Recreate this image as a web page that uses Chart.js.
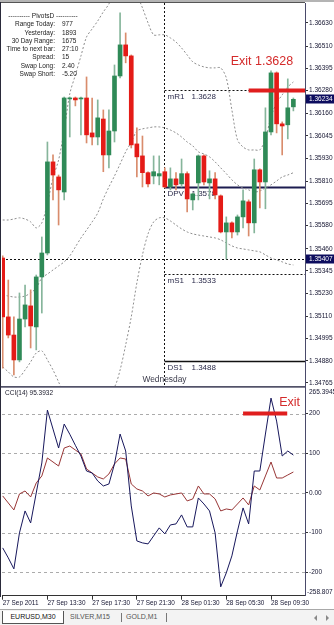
<!DOCTYPE html>
<html>
<head>
<meta charset="utf-8">
<title>EURUSD,M30</title>
<script src="https://cdn.jsdelivr.net/npm/chart.js@4.4.1/dist/chart.umd.min.js"></script>
<style>
  html, body { margin: 0; padding: 0; background: #fff; }
  body { position: relative; width: 334px; height: 625px; overflow: hidden;
         font-family: "Liberation Sans", Arial, sans-serif; color: #1a1a1a; }
  #priceWrap { position: absolute; left: 0; top: -10px; width: 334px; height: 401px; }
  #cciWrap { position: absolute; left: 0; top: 378px; width: 334px; height: 228px; }
  #topEdge { position: absolute; left: 0; top: 0; width: 334px; height: 2px; background: #b4b4b4; }
  #leftEdge { position: absolute; left: 0; top: 2px; width: 1px; height: 595px; background: #2a2a3a; }
  #info { position: absolute; left: 0; top: 12px; font-size: 6.5px; line-height: 8.3px; color: #222; }
  #info .row { position: relative; height: 8.3px; width: 90px; white-space: nowrap; }
  #info .lbl { position: absolute; right: 35px; }
  #info .val { position: absolute; left: 62px; }
  #info .head { width: 76px; margin-left: 5px; text-align: center; white-space: nowrap; }
  #tabs { position: absolute; left: 0; top: 609px; width: 334px; height: 16px; background: #f3f3f3;
          border-top: 1px solid #a8a8a8; font-size: 7px; }
  #tabActive { position: absolute; left: 2px; top: 1px; width: 60px; height: 12px; line-height: 12px;
               background: #fff; border: 1px solid #555; border-top: none; text-align: center; color: #111; }
  .tabTxt { position: absolute; top: 1px; line-height: 12px; color: #555; }
  .tabSep { position: absolute; top: 3px; width: 1px; height: 9px; background: #777; }
  .arrL, .arrR { position: absolute; top: 5px; width: 0; height: 0; border-top: 3px solid transparent; border-bottom: 3px solid transparent; }
  .arrL { left: 314px; border-right: 3px solid #888; }
  .arrR { left: 326px; border-left: 3px solid #888; }
</style>
</head>
<body>
<div id="priceWrap"><canvas id="priceCanvas"></canvas></div>
<div id="cciWrap"><canvas id="cciCanvas"></canvas></div>
<div id="topEdge"></div>
<div id="leftEdge"></div>
<div id="info"></div>
<div id="tabs">
  <div id="tabActive">EURUSD,M30</div>
  <div class="tabTxt" style="left:70px">SILVER,M15</div>
  <div class="tabSep" style="left:121px"></div>
  <div class="tabTxt" style="left:126px">GOLD,M1</div>
  <div class="tabSep" style="left:166px"></div>
  <div class="arrL"></div>
  <div class="arrR"></div>
</div>
<script>
// ---- EURUSD M30 candles, 27 Sep 09:30 .. 28 Sep 11:30 ----
const opens = [1.35412, 1.35107, 1.35013, 1.34884, 1.35096, 1.35164, 1.35055, 1.35314, 1.35438, 1.35910,
  1.35832, 1.35754, 1.36236, 1.36241, 1.36236, 1.36241, 1.36060, 1.36039, 1.36132, 1.35946,
  1.36070, 1.36355, 1.36516, 1.36459, 1.36003, 1.35941, 1.35854, 1.35837, 1.35837, 1.35859,
  1.35780, 1.35822, 1.35796, 1.35849, 1.35713, 1.35801, 1.35941, 1.35801, 1.35822, 1.35734,
  1.35547, 1.35594, 1.35547, 1.35625, 1.35703, 1.35594, 1.35869, 1.35806, 1.36065, 1.36371,
  1.36107, 1.36102, 1.36195];
const highs = [1.35423, 1.35298, 1.35107, 1.35231, 1.35272, 1.35247, 1.35324, 1.35521, 1.36013, 1.35946,
  1.35842, 1.36246, 1.36246, 1.36246, 1.36246, 1.36350, 1.36241, 1.36231, 1.36179, 1.36179,
  1.36412, 1.36682, 1.36578, 1.36464, 1.36086, 1.36044, 1.35859, 1.35941, 1.35941, 1.35879,
  1.35879, 1.35854, 1.35925, 1.35859, 1.35749, 1.35946, 1.35946, 1.35864, 1.35854, 1.35739,
  1.35625, 1.35599, 1.35635, 1.35765, 1.35713, 1.35925, 1.35874, 1.36190, 1.36381, 1.36376,
  1.36117, 1.36340, 1.36241];
const lows = [1.34842, 1.34998, 1.34806, 1.34874, 1.35055, 1.34946, 1.34936, 1.35127, 1.35428, 1.35713,
  1.35583, 1.35713, 1.36039, 1.36200, 1.36050, 1.36008, 1.35998, 1.35998, 1.35859, 1.35879,
  1.36013, 1.36345, 1.36423, 1.35982, 1.35832, 1.35780, 1.35780, 1.35796, 1.35791, 1.35775,
  1.35765, 1.35765, 1.35780, 1.35651, 1.35661, 1.35713, 1.35791, 1.35718, 1.35718, 1.35542,
  1.35407, 1.35516, 1.35531, 1.35568, 1.35526, 1.35542, 1.35672, 1.35667, 1.36050, 1.36060,
  1.35946, 1.36029, 1.36174];
const closes = [1.35107, 1.35013, 1.34884, 1.35096, 1.35169, 1.35060, 1.35314, 1.35438, 1.35910, 1.35842,
  1.35765, 1.36241, 1.36241, 1.36231, 1.36241, 1.36050, 1.36039, 1.36138, 1.35946, 1.36070,
  1.36355, 1.36516, 1.36459, 1.35998, 1.35936, 1.35854, 1.35796, 1.35859, 1.35849, 1.35780,
  1.35822, 1.35791, 1.35849, 1.35718, 1.35744, 1.35941, 1.35806, 1.35822, 1.35739, 1.35547,
  1.35594, 1.35547, 1.35625, 1.35708, 1.35594, 1.35869, 1.35806, 1.36065, 1.36371, 1.36107,
  1.36096, 1.36190, 1.36234];

// bands (dotted grey curves)
const bbUpper = [1.35609, 1.35609, 1.35614, 1.35620, 1.35614, 1.35599, 1.35568, 1.35594, 1.35697, 1.35827,
  1.35920, 1.36075, 1.36262, 1.36360, 1.36459, 1.36557, 1.36599, 1.36640, 1.36687, 1.36728,
  1.36801, 1.36853, 1.36853, 1.36827, 1.36775, 1.36708, 1.36630, 1.36568, 1.36568, 1.36568,
  1.36552, 1.36531, 1.36500, 1.36464, 1.36428, 1.36412, 1.36402, 1.36397, 1.36397, 1.36397,
  1.36345, 1.36179, 1.36024, 1.35987, 1.35972, 1.35972, 1.35972, 1.36029, 1.36143, 1.36215,
  1.36257, 1.36298, 1.36324];
const bbMiddle = [1.35221, 1.35215, 1.35210, 1.35210, 1.35215, 1.35231, 1.35257, 1.35309, 1.35329, 1.35350,
  1.35371, 1.35392, 1.35423, 1.35469, 1.35516, 1.35557, 1.35599, 1.35645, 1.35718, 1.35780,
  1.35837, 1.35899, 1.35962, 1.36013, 1.36070, 1.36081, 1.36086, 1.36091, 1.36091, 1.36086,
  1.36075, 1.36060, 1.36039, 1.36013, 1.35993, 1.35962, 1.35951, 1.35936, 1.35910, 1.35879,
  1.35849, 1.35817, 1.35791, 1.35775, 1.35765, 1.35754, 1.35759, 1.35775, 1.35791, 1.35811,
  1.35832, 1.35842, 1.35854];
const bbLower = [1.34848, 1.34822, 1.34796, 1.34796, 1.34832, 1.34874, 1.34920, 1.34931, 1.34884, 1.34832,
  1.34770, 1.34700, 1.34600, 1.34580, 1.34570, 1.34560, 1.34600, 1.34650, 1.34700, 1.34730,
  1.34744, 1.34832, 1.34962, 1.35107, 1.35283, 1.35428, 1.35537, 1.35599, 1.35620, 1.35620,
  1.35604, 1.35583, 1.35563, 1.35547, 1.35537, 1.35531, 1.35526, 1.35521, 1.35516, 1.35506,
  1.35490, 1.35475, 1.35464, 1.35459, 1.35454, 1.35449, 1.35444, 1.35428, 1.35412, 1.35402,
  1.35392, 1.35381, 1.35376];

// CCI(14) and the slower brown line
const cci14 = [-138.4, -163.5, -191.2, -100.6, -45.3, -75.5, 0.0, 75.5, 208.8, 161.0,
  113.2, 173.6, 148.0, 120.0, 93.0, 55.3, 50.3, 30.2, 17.6, 22.6,
  73.0, 148.4, 105.7, -32.7, -120.8, -125.8, -128.3, -108.2, -88.0, -103.1,
  -80.5, -78.0, -55.3, -85.5, -85.5, -12.6, -27.7, -45.3, -100.6, -236.5,
  -201.3, -158.5, -95.6, -37.7, -78.0, 55.3, 55.3, 148.4, 239.0, 181.1,
  93.1, 105.7, 95.3932];
const cciSlow = [-7.5, -25.2, -42.8, -2.5, 5.0, -10.1, 25.2, 42.8, 88.1, 78.0,
  67.9, 113.2, 118.2, 108.2, 98.1, 60.4, 50.3, 40.3, 35.2, 47.8,
  73.0, 88.1, 85.5, 22.6, 10.1, 5.0, -7.5, 0.0, -2.5, -10.1,
  -5.0, -2.5, 0.0, -20.1, -15.1, 17.6, -2.5, -2.5, -15.1, -45.3,
  -40.3, -42.8, -27.7, -12.6, -30.2, 17.6, 7.5, 42.8, 78.0, 37.7,
  37.7, 45.3, 52.8];

// axes
const priceTicks = [1.36630, 1.36510, 1.36395, 1.36280, 1.36160, 1.36045, 1.35930, 1.35810, 1.35695,
  1.35580, 1.35460, 1.35345, 1.35230, 1.35110, 1.34995, 1.34880, 1.34765];
const priceMin = 1.34749, priceMax = 1.36733;
const cciTicks = [200, 100, 0, -100, -200];
const cciTickLabels = ['200', '100', '0.00', '-100', '-200'];
const cciMin = -258.807, cciMax = 265.3945;
const timeTickBars = [0, 8, 16, 24, 32, 40, 48];
const timeTickLabels = ['27 Sep 2011', '27 Sep 13:30', '27 Sep 17:30', '27 Sep 21:30',
  '28 Sep 01:30', '28 Sep 05:30', '28 Sep 09:30'];
const barMin = -0.125, barMax = 54.08;

// objects on the chart
const pivotNames = ['mR1', 'DPV', 'mS1', 'DS1'];
const pivotValues = [1.3628, 1.3578, 1.3533, 1.3488];
const todayLow = 1.35407;
const bidPrice = 1.36234;
const dayStartBar = 29;
const dayName = 'Wednesday';
const exitPrice = 1.3628;
const exitFromBar = 44;
const cciExitLevel = 200;
const cciExitBars = [43, 50.9];
const cciName = 'CCI(14)';
const cciLast = 95.3932;

// PivotsD info panel
const infoLabels = ['Range  Today:', 'Yesterday:', '30 Day Range:', 'Time to next bar:', 'Spread:', 'Swap  Long:', 'Swap  Short:'];
const infoValues = ['977', '1893', '1675', '27:10', '15', '2.40', '-5.20'];

const FONT = "'Liberation Sans', Arial, sans-serif";
const GREEN = '#2f8a57', RED = '#e41b17';
const GREEN_WICK = '#86b59b', RED_WICK = '#d98c6c';
const AXIS_TXT = '#141430';

Chart.defaults.font.family = FONT;
Chart.defaults.animation = false;

// info block
(function buildInfo() {
    const box = document.getElementById('info');
    let html = '<div class="row head">---------- PivotsD ----------</div>';
    infoLabels.forEach((l, i) => {
        html += '<div class="row"><span class="lbl">' + l + '</span><span class="val">' + infoValues[i] + '</span></div>';
    });
    box.innerHTML = html;
})();

const bull = closes.map((c, i) => c >= opens[i]);
const bodies = opens.map((o, i) => ({ x: i, y: [o, closes[i]] }));
const wicks = lows.map((l, i) => ({ x: i, y: [l, highs[i]] }));
const asPoints = arr => arr.map((v, i) => ({ x: i, y: v }));

function bandSet(arr) {
    return {
        type: 'line', data: asPoints(arr), borderColor: '#8e8e8e', borderWidth: 1,
        borderDash: [2, 2], pointRadius: 0, tension: 0.3, fill: false
    };
}

// pivots, day separator, labels
const priceOverlay = {
    id: 'priceOverlay',
    beforeDatasetsDraw(chart) {
        const { ctx, chartArea: a, scales: { x, y } } = chart;
        const sx = Math.round(x.getPixelForValue(dayStartBar)) - 0.5;
        ctx.save();
        ctx.lineWidth = 1;
        ctx.strokeStyle = '#111';
        ctx.setLineDash([2, 2]);
        ctx.beginPath(); ctx.moveTo(sx, a.top); ctx.lineTo(sx, a.bottom); ctx.stroke();
        const ly = Math.round(y.getPixelForValue(todayLow)) + 0.5;
        ctx.beginPath(); ctx.moveTo(a.left, ly); ctx.lineTo(a.right, ly); ctx.stroke();

        ctx.font = '8px ' + FONT;
        ctx.textBaseline = 'middle';
        pivotValues.forEach((v, i) => {
            const py = Math.round(y.getPixelForValue(v)) + 0.5;
            const solid = pivotNames[i].charAt(0) === 'D';
            ctx.setLineDash(solid ? [] : [2, 2]);
            ctx.strokeStyle = i === 1 ? '#1c1c50' : '#111';
            ctx.lineWidth = i === 1 ? 2 : (solid ? 1.5 : 1);
            ctx.beginPath(); ctx.moveTo(sx, py); ctx.lineTo(a.right, py); ctx.stroke();
            ctx.fillStyle = '#2a2a4a';
            ctx.fillText(pivotNames[i], sx + 3, py + 6.5);
            ctx.fillText(v.toFixed(4), sx + 27, py + 6.5);
        });

        ctx.font = '8.4px ' + FONT;
        ctx.textAlign = 'center';
        ctx.fillStyle = '#3a3a4a';
        ctx.fillText(dayName, sx, a.bottom - 6);
        ctx.restore();
    },
    afterDatasetsDraw(chart) {
        const { ctx, chartArea: a, scales: { x, y } } = chart;
        const ey = y.getPixelForValue(exitPrice);
        const ex = x.getPixelForValue(exitFromBar);
        ctx.save();
        ctx.strokeStyle = '#e01e1e';
        ctx.lineWidth = 4;
        ctx.beginPath(); ctx.moveTo(ex, ey); ctx.lineTo(a.right, ey); ctx.stroke();
        ctx.fillStyle = '#d42a2a';
        ctx.font = '12.5px ' + FONT;
        ctx.textBaseline = 'middle';
        ctx.fillText('Exit ' + exitPrice.toFixed(4), ex - 18, ey - 29);
        ctx.restore();
    },
    afterDraw(chart) {
        const { ctx, chartArea: a, scales: { y } } = chart;
        ctx.save();
        [bidPrice, todayLow].forEach(v => {
            const py = y.getPixelForValue(v);
            ctx.fillStyle = '#0c0c5e';
            ctx.fillRect(a.right + 1, Math.round(py) - 4.5, 29, 9);
            ctx.fillStyle = '#fff';
            ctx.font = '6.5px ' + FONT;
            ctx.textBaseline = 'middle';
            ctx.fillText(v.toFixed(5), a.right + 4, py);
        });
        ctx.strokeStyle = '#555';
        ctx.lineWidth = 1;
        ctx.beginPath();
        ctx.moveTo(0, a.top - 0.5); ctx.lineTo(a.right, a.top - 0.5);
        ctx.stroke();
        ctx.strokeStyle = '#3c3c50';
        ctx.beginPath();
        ctx.moveTo(0, a.bottom + 0.5); ctx.lineTo(a.right, a.bottom + 0.5);
        ctx.stroke();
        ctx.restore();
    }
};

new Chart(document.getElementById('priceCanvas'), {
    type: 'bar',
    data: {
        datasets: [
            {
                data: bodies, backgroundColor: bull.map(b => b ? GREEN : RED),
                barThickness: 4, grouped: false, minBarLength: 1, borderWidth: 0
            },
            {
                data: wicks, backgroundColor: bull.map(b => b ? GREEN_WICK : RED_WICK),
                barThickness: 1, grouped: false, borderWidth: 0
            },
            bandSet(bbUpper),
            bandSet(bbMiddle),
            bandSet(bbLower)
        ]
    },
    options: {
        responsive: true,
        maintainAspectRatio: false,
        layout: { autoPadding: false, padding: { left: 2, top: 13, right: 0, bottom: 5 } },
        plugins: { legend: { display: false }, tooltip: { enabled: false } },
        scales: {
            x: { type: 'linear', display: false, min: barMin, max: barMax, bounds: 'data', offset: false },
            y: {
                position: 'right', min: priceMin, max: priceMax, bounds: 'data',
                afterBuildTicks: s => { s.ticks = priceTicks.map(v => ({ value: v })); },
                afterFit: s => { s.width = 29; },
                ticks: { autoSkip: false, padding: 1, color: AXIS_TXT, font: { size: 6.5 },
                         callback: v => Number(v).toFixed(5) },
                grid: { drawOnChartArea: false, tickLength: 3, color: '#333' },
                border: { color: '#4a4a6a' }
            }
        }
    },
    plugins: [priceOverlay]
});

// CCI window
const cciOverlay = {
    id: 'cciOverlay',
    beforeDatasetsDraw(chart) {
        const { ctx, chartArea: a, scales: { y } } = chart;
        ctx.save();
        ctx.strokeStyle = '#ababab';
        ctx.lineWidth = 1;
        ctx.setLineDash([3, 3]);
        cciTicks.forEach(v => {
            const py = Math.round(y.getPixelForValue(v)) + 0.5;
            ctx.beginPath(); ctx.moveTo(a.left, py); ctx.lineTo(a.right, py); ctx.stroke();
        });
        ctx.restore();
    },
    afterDatasetsDraw(chart) {
        const { ctx, chartArea: a, scales: { x, y } } = chart;
        const ly = y.getPixelForValue(cciExitLevel);
        const x0 = x.getPixelForValue(cciExitBars[0]);
        const x1 = x.getPixelForValue(cciExitBars[1]);
        ctx.save();
        ctx.strokeStyle = '#e01e1e';
        ctx.lineWidth = 4;
        ctx.beginPath(); ctx.moveTo(x0, ly); ctx.lineTo(x1, ly); ctx.stroke();
        ctx.fillStyle = '#d42a2a';
        ctx.font = '12.5px ' + FONT;
        ctx.textBaseline = 'middle';
        ctx.fillText('Exit', x1 - 8, ly - 11.5);

        ctx.fillStyle = '#1a1a2a';
        ctx.font = '6.5px ' + FONT;
        ctx.fillText(cciName + ' ' + cciLast.toFixed(4), a.left + 3, a.top + 5.5);
        ctx.fillStyle = AXIS_TXT;
        ctx.fillText(String(cciMax), a.right + 4, a.top + 4.5);
        ctx.fillText(String(cciMin), a.right + 2, a.bottom - 3.5);

        ctx.strokeStyle = '#5a5a70';
        ctx.lineWidth = 1.5;
        ctx.beginPath(); ctx.moveTo(0, a.top - 0.5); ctx.lineTo(a.right, a.top - 0.5); ctx.stroke();
        ctx.restore();
    }
};

new Chart(document.getElementById('cciCanvas'), {
    type: 'line',
    data: {
        datasets: [
            { data: asPoints(cci14), borderColor: '#17175c', borderWidth: 1, pointRadius: 0, tension: 0 },
            { data: asPoints(cciSlow), borderColor: '#983636', borderWidth: 1, pointRadius: 0, tension: 0 }
        ]
    },
    options: {
        responsive: true,
        maintainAspectRatio: false,
        layout: { autoPadding: false, padding: { left: 2, top: 9.6, right: 0, bottom: 0.3 } },
        plugins: { legend: { display: false }, tooltip: { enabled: false } },
        scales: {
            x: {
                type: 'linear', min: barMin, max: barMax, bounds: 'data', offset: false,
                afterBuildTicks: s => { s.ticks = timeTickBars.map(v => ({ value: v })); },
                afterFit: s => { s.height = 10; },
                ticks: { autoSkip: false, maxRotation: 0, minRotation: 0, align: 'start', padding: 0,
                         color: AXIS_TXT, font: { size: 6.4 },
                         callback: (v, i) => timeTickLabels[i] },
                grid: { drawOnChartArea: false, tickLength: 4, color: '#333' },
                border: { color: '#333' }
            },
            y: {
                position: 'right', min: cciMin, max: cciMax, bounds: 'data',
                afterBuildTicks: s => { s.ticks = cciTicks.map(v => ({ value: v })); },
                afterFit: s => { s.width = 29; },
                ticks: { autoSkip: false, padding: 1, color: AXIS_TXT, font: { size: 6.5 },
                         callback: (v, i) => cciTickLabels[i] },
                grid: { drawOnChartArea: false, tickLength: 3, color: '#333' },
                border: { color: '#4a4a6a' }
            }
        }
    },
    plugins: [cciOverlay]
});
</script>
</body>
</html>
